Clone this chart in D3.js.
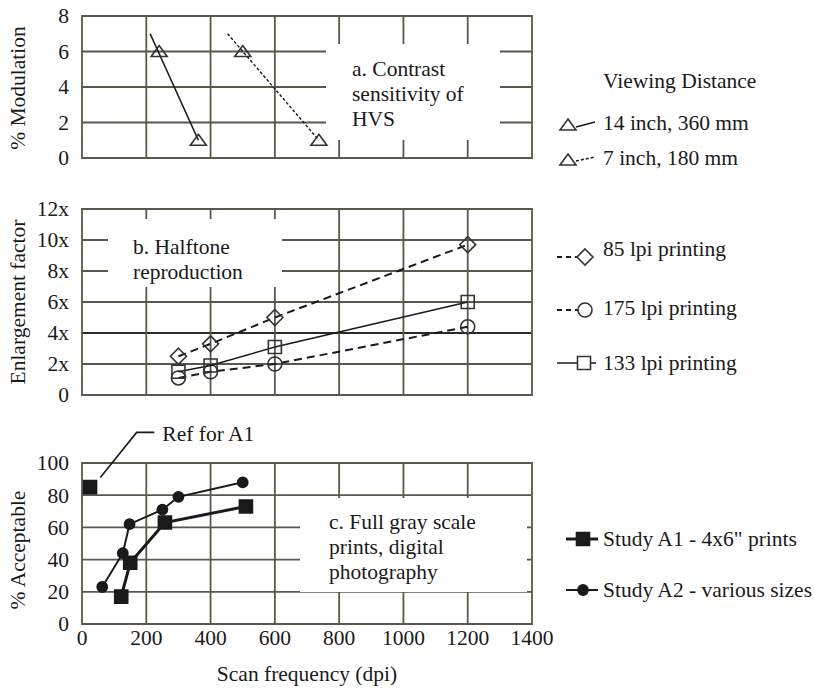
<!DOCTYPE html>
<html>
<head>
<meta charset="utf-8">
<script src="https://cdn.jsdelivr.net/npm/d3@7"></script>
<style>
  body { margin: 0; background: #fff; }
  svg { display: block; font-family: 'Liberation Serif', 'Times New Roman', serif; }
</style>
</head>
<body>
<svg id="chart" width="815" height="688"></svg>
<script>
// ---- data ----
const xTicks = [0, 200, 400, 600, 800, 1000, 1200, 1400];
const modTicks = [0, 2, 4, 6, 8];
const enlTicks = [0, 2, 4, 6, 8, 10, 12];
const enlTickLabels = ['0', '2x', '4x', '6x', '8x', '10x', '12x'];
const accTicks = [0, 20, 40, 60, 80, 100];

// a. contrast sensitivity (dpi, % modulation)
const hvs14 = [[240, 6], [362, 1]];
const hvs14Fit = [[212, 7], [362, 1]];
const hvs7 = [[500, 6], [737, 1]];
const hvs7Fit = [[453, 7], [737, 1]];

// b. halftone reproduction (dpi, enlargement)
const lpi85 = [[300, 2.5], [400, 3.3], [600, 5.0], [1200, 9.7]];
const lpi175 = [[300, 1.1], [400, 1.5], [600, 2.0], [1200, 4.4]];
const lpi133 = [[300, 1.5], [400, 1.9], [600, 3.1], [1200, 6.0]];

// c. full gray scale prints (dpi, % acceptable)
const studyA1 = [[122, 17], [150, 38], [258, 63], [510, 73]];
const refA1 = [[25, 85]];
const studyA2 = [[63, 23], [127, 44], [148, 62], [250, 71], [300, 79], [500, 88]];

const gridColor = '#5b574b';
const ink = '#1a1a1a';
const fontSize = 21.5;

const svg = d3.select('#chart');

const x = d3.scaleLinear().domain([0, 1400]).range([82, 532]);

const panels = [
  { y: d3.scaleLinear().domain([0, 8]).range([158, 16]), ticks: modTicks, labels: modTicks.map(String),
    title: '% Modulation', titleY: 88, mask: { x0: 326, x1: 500, y0: 44, y1: 140 } },
  { y: d3.scaleLinear().domain([0, 12]).range([395, 209]), ticks: enlTicks, labels: enlTickLabels,
    title: 'Enlargement factor', titleY: 302, mask: { x0: 108, x1: 282, y0: 219, y1: 287 } },
  { y: d3.scaleLinear().domain([0, 100]).range([624, 463]), ticks: accTicks, labels: accTicks.map(String),
    title: '% Acceptable', titleY: 550, mask: { x0: 300, x1: 527, y0: 498, y1: 592 } }
];

panels.forEach((p, i) => {
  const g = svg.append('g');
  const [y0, y1] = p.y.range();
  // horizontal grid
  g.selectAll('.h').data(p.ticks).join('line')
    .attr('x1', x(0)).attr('x2', x(1400))
    .attr('y1', (d) => p.y(d)).attr('y2', (d) => p.y(d))
    .attr('stroke', (d) => (i === 1 && d === 4 ? '#2a2a26' : gridColor))
    .attr('stroke-width', (d) => (i === 1 && d === 4 ? 2.2 : 1.8));
  // vertical grid
  g.selectAll('.v').data(xTicks).join('line')
    .attr('x1', (d) => x(d)).attr('x2', (d) => x(d))
    .attr('y1', y0 + 1).attr('y2', y1 - 1)
    .attr('stroke', gridColor).attr('stroke-width', 1.8);
  // white space behind the panel note
  g.append('rect')
    .attr('x', p.mask.x0).attr('y', p.mask.y0)
    .attr('width', p.mask.x1 - p.mask.x0).attr('height', p.mask.y1 - p.mask.y0)
    .attr('fill', '#fff');
  // y tick labels
  g.selectAll('.yl').data(p.ticks).join('text')
    .attr('x', 69).attr('y', (d) => p.y(d))
    .attr('dy', '0.34em')
    .attr('text-anchor', 'end')
    .attr('font-size', fontSize).attr('fill', ink)
    .text((d, j) => p.labels[j]);
  // y title
  g.append('text')
    .attr('transform', `translate(25,${p.titleY}) rotate(-90)`)
    .attr('text-anchor', 'middle')
    .attr('font-size', fontSize).attr('fill', ink)
    .text(p.title);
});

// x tick labels and title (bottom panel only)
svg.selectAll('.xl').data(xTicks).join('text')
  .attr('x', (d) => x(d)).attr('y', 645)
  .attr('text-anchor', 'middle')
  .attr('font-size', fontSize).attr('fill', ink)
  .text((d) => d);
svg.append('text')
  .attr('x', 307).attr('y', 681)
  .attr('text-anchor', 'middle')
  .attr('font-size', fontSize).attr('fill', ink)
  .text('Scan frequency (dpi)');

// panel notes
function note(xPos, yPos, lines) {
  svg.append('text')
    .attr('font-size', fontSize).attr('fill', ink)
    .selectAll('tspan').data(lines).join('tspan')
    .attr('x', xPos).attr('y', (d, i) => yPos + i * 25)
    .text((d) => d);
}
note(352, 76, ['a. Contrast', 'sensitivity of', 'HVS']);
note(133, 254, ['b. Halftone', 'reproduction']);
note(329, 529, ['c. Full gray scale', 'prints, digital', 'photography']);

// markers
const shapes = {
  triangle: 'M0,-6L8,5L-8,5Z',
  diamond: 'M0,-8L8,0L0,8L-8,0Z',
  square: 'M-6.5,-6.5H6.5V6.5H-6.5Z',
  circle: d3.symbol(d3.symbolCircle, 154)(),
  bigSquare: 'M-6.5,-6.5H6.5V6.5H-6.5Z',
  dot: d3.symbol(d3.symbolCircle, 82)()
};

function series(yScale, pts, opts) {
  const line = d3.line().x((d) => x(d[0])).y((d) => yScale(d[1]));
  if (opts.line !== false) {
    svg.append('path')
      .datum(opts.fit || pts)
      .attr('d', line)
      .attr('fill', 'none')
      .attr('stroke', ink)
      .attr('stroke-width', opts.width || 1.5)
      .attr('stroke-dasharray', opts.dash || null);
  }
  svg.append('g').selectAll('path').data(pts).join('path')
    .attr('transform', (d) => `translate(${x(d[0])},${yScale(d[1])})`)
    .attr('d', shapes[opts.shape])
    .attr('fill', opts.filled ? ink : 'none')
    .attr('stroke', opts.filled ? ink : '#333')
    .attr('stroke-width', 1.6);
}

const [ya, yb, yc] = panels.map((p) => p.y);
series(ya, hvs14, { fit: hvs14Fit, shape: 'triangle', width: 1.6 });
series(ya, hvs7, { fit: hvs7Fit, shape: 'triangle', width: 1.4, dash: '3,2' });

series(yb, lpi85, { shape: 'diamond', width: 2, dash: '8,5' });
series(yb, lpi175, { shape: 'circle', width: 2, dash: '8,5' });
series(yb, lpi133, { shape: 'square', width: 1.5 });

series(yc, studyA2, { shape: 'dot', filled: true, width: 2 });
series(yc, studyA1, { shape: 'bigSquare', filled: true, width: 3 });
series(yc, refA1, { shape: 'bigSquare', filled: true, line: false });

// "Ref for A1" callout, placed in data units next to the ref point
const refLeader = [[57, 91], [170, 119], [225, 119]];
svg.append('path')
  .datum(refLeader)
  .attr('d', d3.line().x((d) => x(d[0])).y((d) => yc(d[1])))
  .attr('fill', 'none').attr('stroke', ink).attr('stroke-width', 1.6);
svg.append('text')
  .attr('x', x(250)).attr('y', yc(118)).attr('dy', '0.34em')
  .attr('font-size', fontSize).attr('fill', ink)
  .text('Ref for A1');

// legends
function legendItem(cy, label, shape, opts) {
  const g = svg.append('g');
  g.append('line')
    .attr('x1', opts.x1).attr('x2', opts.x2)
    .attr('y1', cy + (opts.tilt || 0)).attr('y2', cy - (opts.tilt ? 1 : 0))
    .attr('stroke', ink).attr('stroke-width', opts.width || 1.5)
    .attr('stroke-dasharray', opts.dash || null);
  g.append('path')
    .attr('transform', `translate(${opts.mx},${cy + (opts.my || 0)})`)
    .attr('d', shapes[shape])
    .attr('fill', opts.filled ? ink : '#fff')
    .attr('stroke', opts.filled ? ink : '#333')
    .attr('stroke-width', 1.6);
  g.append('text')
    .attr('x', 603).attr('y', cy - (opts.ty || 0)).attr('dy', '0.34em')
    .attr('font-size', fontSize).attr('fill', ink)
    .text(label);
}

svg.append('text')
  .attr('x', 603).attr('y', 81).attr('dy', '0.34em')
  .attr('font-size', fontSize).attr('fill', ink)
  .text('Viewing Distance');
legendItem(123, '14 inch, 360 mm', 'triangle', { x1: 576, x2: 595, tilt: 4, mx: 568, my: 2 });
legendItem(158, '7 inch, 180 mm', 'triangle', { x1: 576, x2: 595, tilt: 3, mx: 568, my: 2, dash: '3,2' });

legendItem(257, '85 lpi printing', 'diamond', { x1: 557, x2: 578, mx: 585, dash: '5,4', ty: 8, width: 2 });
legendItem(310, '175 lpi printing', 'circle', { x1: 557, x2: 578, mx: 585, dash: '5,4', ty: 2, width: 2 });
legendItem(363, '133 lpi printing', 'square', { x1: 557, x2: 596, mx: 584 });

legendItem(539, 'Study A1 - 4x6" prints', 'bigSquare', { x1: 566, x2: 598, mx: 583, filled: true, width: 3 });
legendItem(590, 'Study A2 - various sizes', 'dot', { x1: 566, x2: 598, mx: 583, filled: true, width: 2 });
</script>
</body>
</html>
